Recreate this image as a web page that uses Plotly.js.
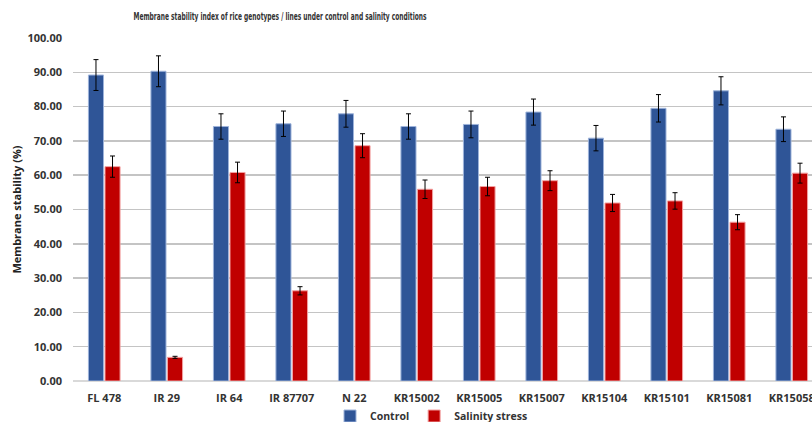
<!DOCTYPE html>
<html>
<head>
<meta charset="utf-8">
<script src="https://cdn.plot.ly/plotly-3.0.1.min.js"></script>
<style>html,body{margin:0;padding:0;background:#fff;}#chart{width:812px;height:422px;}</style>
</head>
<body>
<div id="chart"></div>
<script>
const categories = ["FL 478","IR 29","IR 64","IR 87707","N 22","KR15002","KR15005","KR15007","KR15104","KR15101","KR15081","KR15058"];
const controlValues = [89.2, 90.3, 74.2, 75.0, 77.9, 74.2, 74.8, 78.4, 70.8, 79.5, 84.6, 73.4];
const controlErrors = [4.5, 4.5, 3.7, 3.7, 3.9, 3.7, 3.9, 3.8, 3.7, 4.0, 4.1, 3.6];
const salinityValues = [62.5, 6.9, 60.8, 26.3, 68.6, 55.9, 56.7, 58.4, 51.9, 52.5, 46.3, 60.6];
const salinityErrors = [3.1, 0.3, 3.0, 1.2, 3.5, 2.7, 2.7, 2.9, 2.5, 2.4, 2.2, 2.9];
const yTicks = [0,10,20,30,40,50,60,70,80,90,100];

const fontFam = '"Open Sans", "DejaVu Sans", sans-serif';
const errStyle = (arr) => ({type:'data', array:arr, visible:true, color:'#000', thickness:1, width:2.5});

const traces = [
  {type:'bar', name:'Control', x:categories, y:controlValues, error_y:errStyle(controlErrors),
   marker:{color:'#2F5597', line:{color:'#9DB3DA', width:1}}},
  {type:'bar', name:'Salinity stress', x:categories, y:salinityValues, error_y:errStyle(salinityErrors),
   marker:{color:'#C00000', line:{color:'#F2A0A0', width:1}}}
];

const layout = {
  width:812, height:422,
  margin:{l:73, r:0, t:38, b:41},
  paper_bgcolor:'#fff', plot_bgcolor:'#fff',
  barmode:'group', bargap:0.47, bargroupgap:0.09,
  showlegend:true,
  title:{text:'Membrane stability index of rice genotypes / lines under control and salinity conditions',
    font:{family:'"DejaVu Sans Condensed", "Open Sans", sans-serif', size:10, color:'#333', weight:'bold'},
    x:280/812, xanchor:'center', xref:'container', y:1-16/422, yanchor:'middle', yref:'container'},
  xaxis:{type:'category', range:[-0.5, 11.5 - 11/62.5], showgrid:false, zeroline:false,
    showline:false, ticks:'', tickfont:{family:fontFam, size:11, color:'#333', weight:'bold'},
    ticklabelstandoff:9, fixedrange:true},
  yaxis:{range:[0,100], tickvals:yTicks, ticktext:yTicks.map(v=>v.toFixed(2)),
    showgrid:true, gridcolor:'#C4C4C4', gridwidth:1.5, zeroline:true, zerolinecolor:'#D9D9D9', zerolinewidth:1.5,
    showline:false, ticks:'', tickfont:{family:fontFam, size:11, color:'#333', weight:'bold'},
    ticklabelstandoff:10,
    title:{text:'Membrane stability (%)', font:{family:fontFam, size:11, color:'#222', weight:'bold'}, standoff:3},
    automargin:false, fixedrange:true},
  legend:{orientation:'h', x:330/812, xanchor:'left', xref:'container', y:1-416/422, yanchor:'middle', yref:'container',
    font:{family:fontFam, size:10.5, color:'#333', weight:'bold'}, itemwidth:30, traceorder:'normal'}
};

Plotly.newPlot('chart', traces, layout, {displayModeBar:false, staticPlot:true}).then(function(gd){
  const t = gd.querySelector('.gtitle');
  if (t) {
    t.setAttribute('textLength', '293');
    t.setAttribute('lengthAdjust', 'spacingAndGlyphs');
  }
});
</script>
</body>
</html>
